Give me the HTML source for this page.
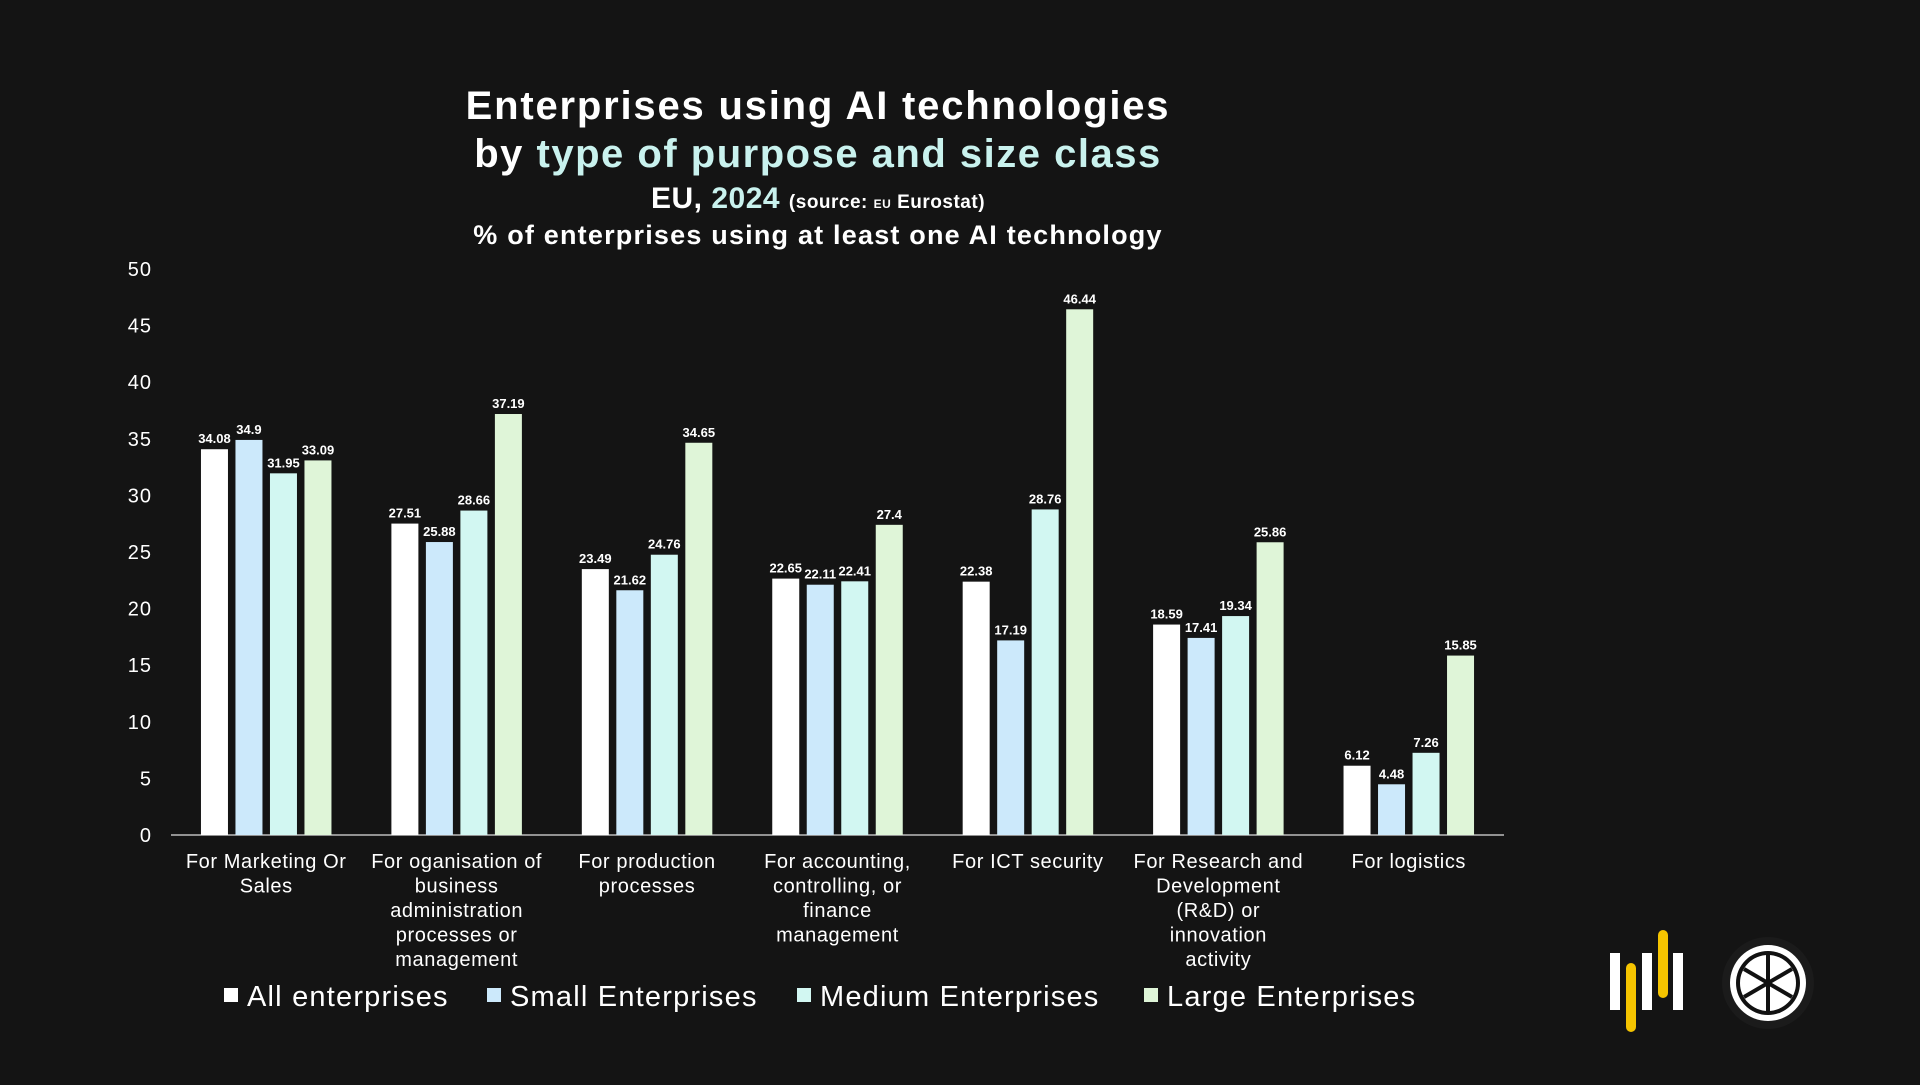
<!DOCTYPE html>
<html><head><meta charset="utf-8">
<style>
html,body{margin:0;padding:0;background:#141414;}
body{width:1920px;height:1080px;overflow:hidden;font-family:"Liberation Sans",sans-serif;color:#fff;}
svg text{font-family:"Liberation Sans",sans-serif;}
</style></head>
<body>
<svg id="chart" width="1920" height="1080">
<text x="818" y="119" text-anchor="middle" font-size="40" font-weight="bold" fill="#fff" letter-spacing="1.8">Enterprises using AI technologies</text>
<text x="818" y="167" text-anchor="middle" font-size="40" font-weight="bold" fill="#fff" letter-spacing="1.5">by <tspan fill="#c9f2ee">type of purpose and size class</tspan></text>
<text x="818" y="208" text-anchor="middle" font-size="30" font-weight="bold" fill="#fff" letter-spacing="0.5">EU, <tspan fill="#c9f2ee">2024</tspan> <tspan font-size="19">(source: <tspan font-size="12">EU</tspan> Eurostat)</tspan></text>
<text x="818" y="244" text-anchor="middle" font-size="27" font-weight="bold" fill="#fff" letter-spacing="1.2">% of enterprises using at least one AI technology</text>
<g id="axes"></g><g id="bars"></g><g id="legend"></g>
<g>
<rect x="1610" y="953" width="10" height="57" fill="#fff"/>
<rect x="1626" y="963" width="10" height="69" rx="5" fill="#f5c400"/>
<rect x="1642" y="953" width="10" height="57" fill="#fff"/>
<rect x="1658" y="930" width="10" height="68" rx="5" fill="#f5c400"/>
<rect x="1673" y="953" width="10" height="57" fill="#fff"/>
</g>
<g>
<circle cx="1768" cy="983" r="46" fill="#1b1b1b"/>
<circle cx="1768" cy="983" r="38" fill="#fff"/>
<circle cx="1768" cy="983" r="32" fill="#111"/>
<circle cx="1768" cy="983" r="28" fill="#fff"/>
<g stroke="#111" stroke-width="4">
<line x1="1768" y1="955" x2="1768" y2="1011"/>
<line x1="1744" y1="969" x2="1792" y2="997"/>
<line x1="1744" y1="997" x2="1792" y2="969"/>
</g>
</g>
</svg>
<script>
const categories=[["For Marketing Or","Sales"],["For oganisation of","business","administration","processes or","management"],["For production","processes"],["For accounting,","controlling, or","finance","management"],["For ICT security"],["For Research and","Development","(R&D) or","innovation","activity"],["For logistics"]];
const seriesNames=["All enterprises","Small Enterprises","Medium Enterprises","Large Enterprises"];
const allEnt=[34.08,27.51,23.49,22.65,22.38,18.59,6.12];
const smallEnt=[34.9,25.88,21.62,22.11,17.19,17.41,4.48];
const mediumEnt=[31.95,28.66,24.76,22.41,28.76,19.34,7.26];
const largeEnt=[33.09,37.19,34.65,27.4,46.44,25.86,15.85];
const yTicks=[0,5,10,15,20,25,30,35,40,45,50];
const colors=["#ffffff","#cce9fb","#d2f7f2","#dff5d8"];
const series=[allEnt,smallEnt,mediumEnt,largeEnt];
const NS="http://www.w3.org/2000/svg";
const x0=171,x1=1504,y0=835,yTop=269,ymax=50;
const yS=v=>y0-(v/ymax)*(y0-yTop);
const gw=(x1-x0)/categories.length;
const bw=27,bstep=34.5;
function mk(t,a,p){const e=document.createElementNS(NS,t);for(const k in a)e.setAttribute(k,a[k]);p.appendChild(e);return e;}
const ax=document.getElementById('axes'),bg=document.getElementById('bars'),lg=document.getElementById('legend');
yTicks.forEach(t=>{const e=mk('text',{x:152,y:yS(t)+7,'text-anchor':'end','font-size':20,fill:'#fff','letter-spacing':1},ax);e.textContent=t;

});
const al=mk('line',{x1:x0,x2:x1,y1:y0,y2:y0,stroke:'#bbb','stroke-width':1.5},ax);


categories.forEach((c,i)=>{const cx=x0+gw*(i+0.5);
const t=mk('text',{x:cx,y:868,'text-anchor':'middle','font-size':20,fill:'#fff','letter-spacing':0.6},ax);


c.forEach((l,j)=>{const s=mk('tspan',{x:cx,dy:j?24.5:0},t);s.textContent=l;});
series.forEach((s,k)=>{const bx=cx-1.5*bstep-bw/2+k*bstep;const v=s[i];
const r=mk('rect',{x:bx,y:yS(v),width:bw,height:y0-yS(v),fill:colors[k]},bg);


const lt=mk('text',{x:bx+bw/2,y:yS(v)-6,'text-anchor':'middle','font-size':13,'font-weight':'bold',fill:'#fff'},bg);lt.textContent=v;

});});
const lx=[224,487,797,1144];
seriesNames.forEach((n,k)=>{const g=mk('g',{},lg);


mk('rect',{x:lx[k],y:988,width:14,height:14,fill:colors[k]},g);
const t=mk('text',{x:lx[k]+23,y:1006,'font-size':29,fill:'#fff','letter-spacing':1.2},g);t.textContent=n;});
</script>
</body></html>
